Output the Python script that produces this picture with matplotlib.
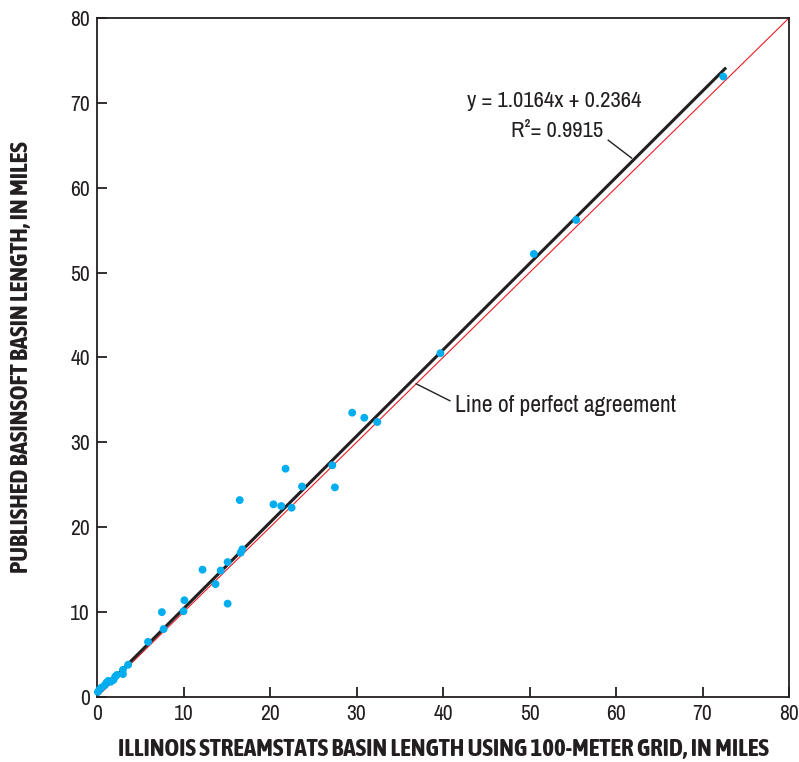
import numpy as np
import matplotlib; matplotlib.use("Agg")
import matplotlib.pyplot as plt
from matplotlib import font_manager as fm

# StreamStats (100-m grid) vs published BasinSoft basin length, miles
streamstats=[0.1,0.3,0.5,0.9,1.1,1.3,1.6,1.9,2.1,2.3,3.0,3.0,3.6,5.9,7.7,7.5,10.0,10.1,
             13.7,12.2,14.3,15.1,15.1,16.6,16.8,16.5,20.4,21.3,22.5,23.7,21.8,27.2,27.5,
             29.5,30.9,32.4,39.7,50.5,55.4,72.4]
basinsoft=[0.6,0.9,1.1,1.4,1.7,1.9,1.8,2.0,2.4,2.6,2.7,3.2,3.8,6.5,8.0,10.0,10.1,11.4,
           13.3,15.0,14.9,15.9,11.0,17.0,17.4,23.2,22.7,22.5,22.3,24.8,26.9,27.3,24.7,
           33.5,32.9,32.4,40.5,52.2,56.2,73.1]
slope,icpt=1.0164,0.2364
r2=0.9915

# narrow face if one is around, one that has a bold cut first
fonts=fm.fontManager.ttflist
narrow=sorted({f.name for f in fonts if "Narrow" in f.name or "Condensed" in f.name})
def has_bold(n):
    return any(f.name==n and (f.weight in ("bold",700) or (isinstance(f.weight,int) and f.weight>=600)) for f in fonts)
narrow_b=[n for n in narrow if has_bold(n)] or narrow
plt.rcParams['font.family']=narrow[:1]+['Roboto','DejaVu Sans']
LBL=narrow_b[:1]+['Roboto','DejaVu Sans']
TXT="#231f20"

fig=plt.figure(figsize=(7.99,7.62),dpi=100)
ax=fig.add_axes([0.1214,0.0853,0.8661,0.8911])

ax.plot([0,80],[0,80],color="#ed1c24",lw=0.8,zorder=2)
xf=np.array([0,72.6])
ax.plot(xf,slope*xf+icpt,color="#231f20",lw=2.2,zorder=3)
ax.scatter(streamstats,basinsoft,s=32,color="#00aeef",edgecolors="none",zorder=4,clip_on=False)

ax.set_xlim(0,80);ax.set_ylim(0,80)
ax.set_xticks(range(0,81,10));ax.set_yticks(range(0,81,10))
ax.tick_params(direction="in",length=7,width=1.3,labelsize=15.5,colors=TXT,pad=5)
for s in ax.spines.values(): s.set_linewidth(1.3);s.set_color(TXT)

ax.set_xlabel("ILLINOIS STREAMSTATS BASIN LENGTH USING 100-METER GRID, IN MILES",
              fontsize=18,fontweight="bold",color=TXT,family=LBL)
ax.set_ylabel("PUBLISHED BASINSOFT BASIN LENGTH, IN MILES",
              fontsize=18,fontweight="bold",color=TXT,family=LBL)
ax.xaxis.set_label_coords(0.5,-0.06)
ax.yaxis.set_label_coords(-0.092,0.5)

# equation + leader
ax.text(52.9,70.2,f"y = {slope:.4f}x + {icpt:.4f}",fontsize=16.3,color=TXT,ha="center",va="center")
ax.text(58.5,66.7,f"R²= {r2:.4f}",fontsize=16.3,color=TXT,ha="right",va="center")
ax.plot([59.1,61.8],[65.6,63.5],color=TXT,lw=1)
# 1:1 line label + leader
ax.text(41.4,34.3,"Line of perfect agreement",fontsize=17,color=TXT,ha="left",va="center")
ax.plot([36.9,40.8],[36.9,34.9],color=TXT,lw=1)

fig.savefig("out.png",dpi=100)
